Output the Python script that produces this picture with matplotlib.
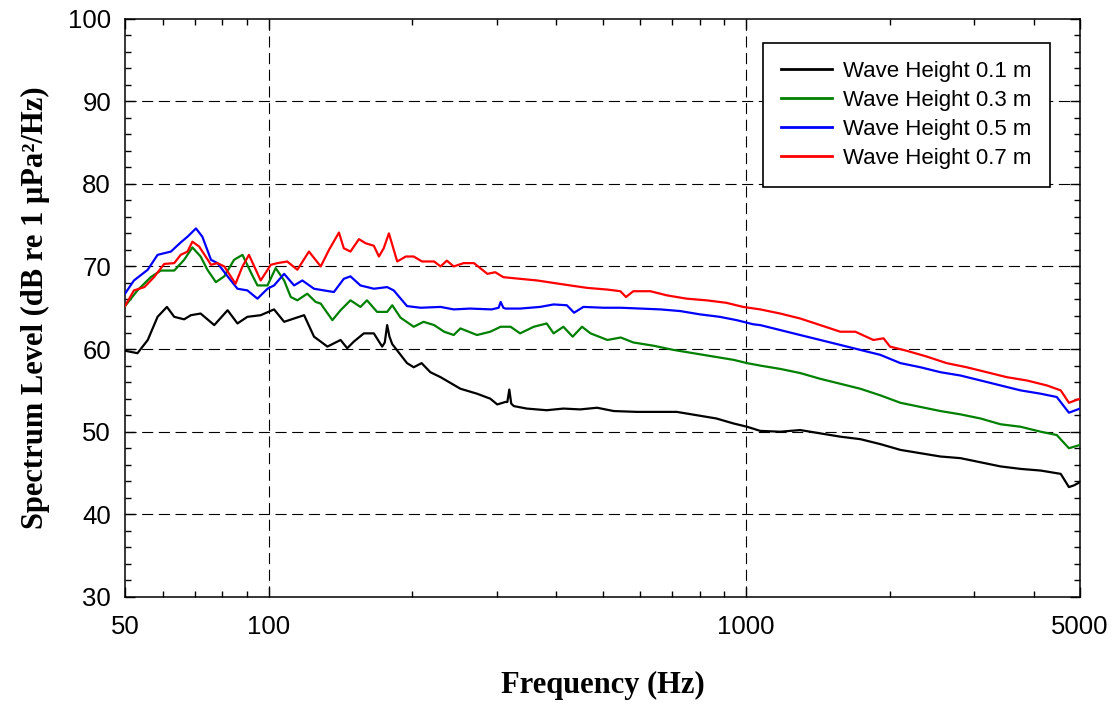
import matplotlib
matplotlib.use("Agg")
import matplotlib.pyplot as plt
from matplotlib.ticker import FixedLocator, NullFormatter

# ---------------- data ----------------
f_01 = [50, 53.1, 55.8, 58.5, 61.2, 63.4, 66.5, 68.7, 72.0, 76.9, 82.0, 86.0, 90.2, 96.2,
        102.6, 107.7, 113.0, 118.6, 124.4, 128.5, 132.7, 141.4, 146.0, 150.7, 158.2, 166.0,
        172.8, 175, 177.0, 179, 181.4, 194.8, 201.2, 209, 218, 229, 252, 273, 291, 301, 313,
        316, 319, 322, 326, 347, 382, 414, 449, 487, 528, 590, 650, 715, 787, 866, 940, 1004,
        1070, 1178, 1297, 1429, 1574, 1733, 1909, 2103, 2316, 2551, 2810, 3095, 3409, 3755,
        4136, 4556, 4740, 4853, 5000]
L_01 = [59.8, 59.5, 61.1, 63.9, 65.1, 63.9, 63.6, 64.1, 64.3, 62.9, 64.7, 63.1, 63.9, 64.1,
        64.8, 63.3, 63.7, 64.1, 61.5, 60.9, 60.3, 61.1, 60.1, 60.9, 61.9, 61.9,
        60.3, 60.8, 62.9, 61.5, 60.6, 58.3, 57.8, 58.3, 57.2, 56.6, 55.2, 54.6, 54.0, 53.3, 53.6,
        53.6, 55.1, 53.4, 53.1, 52.8, 52.6, 52.8, 52.7, 52.9, 52.5, 52.4, 52.4, 52.4, 52.0, 51.6, 51.0, 50.6,
        50.1, 50.0, 50.2, 49.8, 49.4, 49.1, 48.5, 47.8, 47.4, 47.0, 46.8, 46.3, 45.8, 45.5,
        45.3, 44.9, 43.3, 43.5, 43.9]

f_03 = [50, 53.1, 56.6, 59.4, 63.4, 66.5, 69.2, 72.0, 74.4, 77.5, 80.7, 84.6, 88.1, 91.7, 94.7,
        99.4, 103.4, 107.7, 111.2, 114.8, 120.4, 125.4, 128.5, 135.9, 141.4, 148.3, 155.6,
        160.6, 168.6, 177.0, 181.4, 188.8, 201.2, 211, 222, 233, 244, 252, 273, 291, 306, 321,
        336, 359, 382, 395, 414, 433, 453, 472, 512, 546, 580, 640, 704, 775, 853, 940, 1004,
        1070, 1178, 1297, 1429, 1574, 1733, 1909, 2103, 2316, 2551, 2810, 3095, 3409, 3755,
        4136, 4470, 4740, 5000]
L_03 = [65.2, 67.1, 68.7, 69.5, 69.5, 70.8, 72.3, 71.2, 69.6, 68.1, 68.8, 70.8, 71.4, 69.3, 67.7,
        67.7, 69.8, 68.3, 66.3, 65.9, 66.7, 65.7, 65.5, 63.5, 64.7, 65.9, 65.1,
        65.9, 64.5, 64.5, 65.3, 63.8, 62.7, 63.3, 62.9, 62.1, 61.7, 62.5, 61.7, 62.1, 62.7, 62.7,
        61.9, 62.7, 63.1, 61.9, 62.7, 61.5, 62.7, 61.9, 61.1, 61.4, 60.8, 60.4, 59.9, 59.5, 59.1, 58.7, 58.3,
        58.0, 57.6, 57.1, 56.4, 55.8, 55.2, 54.4, 53.5, 53.0, 52.5, 52.1, 51.6, 50.9, 50.6,
        50.0, 49.6, 48.0, 48.4]

f_05 = [50, 52.2, 55.8, 58.5, 62.4, 65.4, 67.6, 70.4, 72.6, 75.7, 78.1, 82.0, 86.0, 90.2, 94.7,
        99.4, 102.6, 107.7, 113.0, 117.6, 124.4, 136.9, 143.6, 148.3, 155.6, 166, 177, 182.7,
        194.8, 208, 229, 244, 264, 293, 303, 306, 310, 313, 336, 370, 395, 421, 436, 456, 503, 546,
        601, 661, 727, 800, 880, 955, 1034, 1070, 1178, 1297, 1429, 1574, 1733, 1909, 2103,
        2316, 2551, 2810, 3095, 3409, 3755, 4136, 4470, 4740, 5000]
L_05 = [66.7, 68.3, 69.6, 71.4, 71.8, 72.9, 73.6, 74.6, 73.6, 70.8, 70.4, 68.8, 67.3, 67.1, 66.1,
        67.3, 67.7, 69.1, 67.7, 68.3, 67.3, 66.9, 68.5, 68.8, 67.7, 67.3, 67.5, 67.1,
        65.2, 65.0, 65.1, 64.8, 64.9, 64.8, 65.0, 65.7, 65.0, 64.9, 64.9, 65.1, 65.4, 65.3, 64.4, 65.1, 65.0, 65.0,
        64.9, 64.8, 64.6, 64.2, 63.9, 63.5, 63.0, 62.9, 62.3, 61.7, 61.1, 60.5, 59.9, 59.3, 58.3,
        57.8, 57.2, 56.8, 56.2, 55.6, 55.0, 54.6, 54.2, 52.3, 52.8]

f_07 = [50, 52.2, 54.9, 57.5, 60.4, 63.4, 65.4, 67.6, 69.2, 71.5, 75.7, 78.1, 80.7, 85.2, 88.1,
        90.9, 96.2, 101.0, 104.3, 109.3, 114.8, 121.4, 128.5, 133.7, 140.3, 143.6, 148.3,
        154.5, 159.6, 166, 170.1, 174.1, 178.5, 185.8, 193.7, 201.2, 209.4, 222, 229, 236, 244,
        256, 269, 287, 298, 310, 336, 365, 395, 428, 465, 512, 545, 560, 580, 630, 682, 750, 825,
        908, 985, 1070, 1178, 1297, 1429, 1574, 1692, 1846, 1939, 2000, 2166, 2386, 2628,
        2894, 3190, 3513, 3869, 4262, 4556, 4740, 5000]
L_07 = [65.2, 67.1, 67.5, 68.7, 70.3, 70.4, 71.4, 71.8, 73.0, 72.4, 70.2, 70.4, 70.0, 67.9, 70.0,
        71.4, 68.3, 70.2, 70.4, 70.6, 69.6, 71.8, 70.0, 72.0, 74.1, 72.2, 71.8,
        73.3, 72.8, 72.5, 71.2, 72.2, 74.0, 70.6, 71.2, 71.2, 70.6, 70.6, 70.0, 70.7, 70.0,
        70.4, 70.4, 69.1, 69.3, 68.7, 68.5, 68.3, 68.0, 67.7, 67.4, 67.2, 67.0, 66.3, 67.0, 67.0, 66.5, 66.1, 65.9,
        65.6, 65.1, 64.8, 64.3, 63.7, 62.9, 62.1, 62.1, 61.1, 61.3, 60.3, 59.8, 59.1, 58.3,
        57.8, 57.2, 56.6, 56.2, 55.6, 55.0, 53.5, 54.0]

labels = ["Wave Height 0.1 m", "Wave Height 0.3 m", "Wave Height 0.5 m", "Wave Height 0.7 m"]
colors = ["black", "#008000", "#0000ff", "#ff0000"]
x_major = [50, 100, 1000, 5000]
x_minor = [60, 70, 80, 90, 200, 300, 400, 500, 600, 700, 800, 900, 2000, 3000, 4000]
y_major = [30, 40, 50, 60, 70, 80, 90, 100]
y_minor = [32, 34, 36, 38, 42, 44, 46, 48, 52, 54, 56, 58, 62, 64, 66, 68,
           72, 74, 76, 78, 82, 84, 86, 88, 92, 94, 96, 98]

# ---------------- figure ----------------
W, H = 1118, 704
fig = plt.figure(figsize=(W / 100, H / 100), dpi=100)
ax = fig.add_axes([125 / W, (H - 597) / H, (1080 - 125) / W, (597 - 18.5) / H])

series = [(f_01, L_01), (f_03, L_03), (f_05, L_05), (f_07, L_07)]
for (f, L), lab, c in zip(series, labels, colors):
    ax.plot(f, L, color=c, lw=1.6, label=lab, zorder=3)

ax.set_xscale("log")
ax.set_xlim(50, 5000)
ax.set_ylim(30, 100)
ax.xaxis.set_major_locator(FixedLocator(x_major))
ax.xaxis.set_minor_locator(FixedLocator(x_minor))
ax.xaxis.set_minor_formatter(NullFormatter())
ax.set_xticklabels([str(v) for v in x_major])
ax.yaxis.set_major_locator(FixedLocator(y_major))
ax.yaxis.set_minor_locator(FixedLocator(y_minor))
ax.set_yticklabels([str(v) for v in y_major])

for t in ax.get_xticklabels() + ax.get_yticklabels():
    t.set_fontfamily(["Liberation Sans", "DejaVu Sans"])
    t.set_fontsize(18.5)

ax.tick_params(which="both", direction="in", top=True, right=True, width=1.0, colors="black")
ax.tick_params(which="major", length=7, pad=10)
ax.tick_params(axis="x", which="major", pad=13)
ax.tick_params(which="minor", length=4.5)

for s in ax.spines.values():
    s.set_linewidth(1.1)

# grid lines (dashed) at interior major ticks
for xv in [100, 1000]:
    ax.axvline(xv, color="black", lw=0.8, ls=(0, (10, 5)), zorder=1)
for yv in [40, 50, 60, 70, 80, 90]:
    ax.axhline(yv, color="black", lw=0.8, ls=(0, (10, 5)), zorder=1)

lab_font = dict(family=["Liberation Serif", "DejaVu Serif"], size=22, weight="bold")
ax.set_xlabel("Frequency (Hz)", fontdict=lab_font, labelpad=23)
ax.set_ylabel("Spectrum Level (dB re 1 μPa²/Hz)", fontdict=lab_font, labelpad=13)

leg = ax.legend(loc="upper right", bbox_to_anchor=((1050 - 125) / 955, (597 - 43) / 578.5),
                borderaxespad=0, frameon=True, fancybox=False, shadow=False,
                prop=dict(family=["Liberation Sans", "DejaVu Sans"], size=16),
                handlelength=2.3, handletextpad=0.5, labelspacing=0.36,
                borderpad=0.82)
leg.get_frame().set_edgecolor("black")
leg.get_frame().set_linewidth(1.2)
leg.get_frame().set_alpha(1)
for ln in leg.get_lines():
    ln.set_linewidth(2)

fig.savefig("out.png", dpi=100)
